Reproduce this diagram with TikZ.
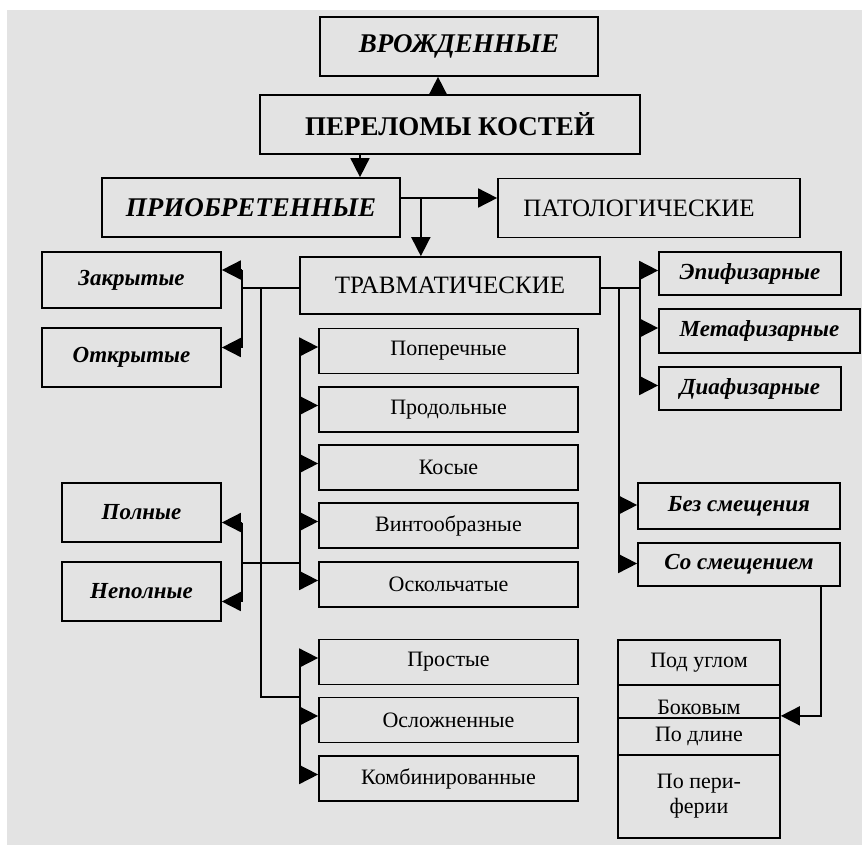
\documentclass[tikz,border=0pt]{standalone}
\usepackage{fontspec}
\setmainfont{Liberation Serif}
\usetikzlibrary{calc}
\usetikzlibrary{arrows.meta}

\begin{document}
\begin{tikzpicture}[x=1pt,y=-1pt,
  ramka/.style={draw,line width=1.7pt,inner sep=0pt,align=center},
  linija/.style={line width=1.7pt},
  strelka/.style={line width=1.7pt,-{Triangle[length=19pt,width=19pt]}},
  glav/.style={font=\fontsize{27}{30}\selectfont\bfseries\itshape},
  zagl/.style={font=\fontsize{25}{28}\selectfont},
  kurs/.style={font=\fontsize{23}{26}\selectfont\bfseries\itshape},
  prostoj/.style={font=\fontsize{22}{25}\selectfont}]

\useasboundingbox (0,0) rectangle (862,852);
\fill[white] (0,0) rectangle (862,852);											% поля скана
\fill[black!11] (7,10) rectangle (862,845);										% серая страница

\node[ramka,glav,minimum width=278pt,minimum height=59pt] (vrozh) at (459,46.5) {ВРОЖДЕННЫЕ};	% верх
\node[ramka,font=\fontsize{27}{30}\selectfont\bfseries,minimum width=380pt,minimum height=59pt] (perelom) at (450,124.5) {ПЕРЕЛОМЫ КОСТЕЙ};
\node[ramka,glav,minimum width=298pt,minimum height=59pt] (priobr) at (251,207.5) {ПРИОБРЕТЕННЫЕ};
\node[ramka,zagl,minimum width=302pt,minimum height=59pt] (patol) at (649,208) {\hspace*{-20pt}ПАТОЛОГИЧЕСКИЕ};
\node[ramka,zagl,minimum width=300pt,minimum height=57pt] (travm) at (450,285.5) {ТРАВМАТИЧЕСКИЕ};

\node[ramka,kurs,minimum width=179pt,minimum height=56pt] (zakr) at (131.5,280) {Закрытые};		% слева
\node[ramka,kurs,minimum width=179pt,minimum height=59pt] (otkr) at (131.5,357.5) {Открытые};
\node[ramka,kurs,minimum width=159pt,minimum height=59pt] (poln) at (141.5,512.5) {Полные};
\node[ramka,kurs,minimum width=159pt,minimum height=59pt] (nepoln) at (141.5,591.5) {Неполные};

\node[ramka,kurs,minimum width=182pt,minimum height=43pt] (epif) at (750,273.5) {Эпифизарные};	% справа
\node[ramka,kurs,minimum width=201pt,minimum height=44pt] (metaf) at (759.5,331) {Метафизарные};
\node[ramka,kurs,minimum width=182pt,minimum height=43pt] (diaf) at (750,388.5) {Диафизарные};
\node[ramka,kurs,minimum width=202pt,minimum height=46pt] (bez) at (739,506) {Без смещения};
\node[ramka,kurs,minimum width=202pt,minimum height=43pt] (so) at (739,564.5) {Со смещением};

\foreach \imja/\y/\tekst in {pop/351/Поперечные,prod/409.5/Продольные,kos/467.5/Косые,
  vint/525.5/Винтообразные,osk/584.5/Оскольчатые,prost/662/Простые,
  oslozh/720/Осложненные,komb/778.5/Комбинированные}
  \node[ramka,prostoj,minimum width=259pt,minimum height=45pt] (\imja) at (448.5,\y) {\tekst};	% виды

\node[ramka,prostoj,minimum width=162pt,minimum height=45pt] (ugl) at (699,662.5) {Под углом};	% столбик
\node[ramka,prostoj,minimum width=162pt,minimum height=33pt] (bok) at (699,701.5) {\raisebox{-13pt}[0pt][0pt]{Боковым}};
\node[ramka,prostoj,minimum width=162pt,minimum height=37pt] (dlin) at (699,736.5) {По длине};
\node[ramka,prostoj,minimum width=162pt,minimum height=83pt] (perif) at (699,796.5) {По пери-\\ферии};

\draw[strelka] ([xshift=-12pt]perelom.north) -- ([xshift=-12pt]perelom.north |- vrozh.south);	% вверх
\draw[strelka] ([xshift=-90pt]perelom.south) -- ([xshift=-90pt]perelom.south |- priobr.north);	% вниз
\draw[strelka] ([yshift=9.5pt]priobr.east) -- ([yshift=9.5pt]priobr.east -| patol.west);
\coordinate (razv) at ([xshift=20pt,yshift=9.5pt]priobr.east);
\draw[strelka] (razv) -- (razv |- travm.north);

\coordinate (lk) at (242,288);													% левые скобки
\coordinate (stv) at (261,697);
\coordinate (vk) at (300,563);
\draw[linija] ([yshift=-2.5pt]travm.west) -- (lk);
\draw[linija] ([yshift=10pt]zakr.east -| lk) -- ([yshift=10pt]otkr.east -| lk);
\draw[strelka] ([yshift=10pt]zakr.east -| lk) -- ([yshift=10pt]zakr.east);
\draw[strelka] ([yshift=10pt]otkr.east -| lk) -- ([yshift=10pt]otkr.east);
\draw[linija] (stv |- lk) -- (stv) -- (stv -| vk);
\draw[linija] (vk -| lk) -- (vk);
\draw[linija] ([yshift=-10pt]poln.east -| lk) -- ([yshift=-10pt]nepoln.east -| lk);
\draw[strelka] ([yshift=-10pt]poln.east -| lk) -- ([yshift=-10pt]poln.east);
\draw[strelka] ([yshift=-10pt]nepoln.east -| lk) -- ([yshift=-10pt]nepoln.east);

\draw[linija] ([yshift=4pt]pop.west -| vk) -- ([yshift=4pt]osk.west -| vk);			% скобки видов
\draw[linija] ([yshift=4pt]prost.west -| vk) -- ([yshift=4pt]komb.west -| vk);
\foreach \imja in {pop,prod,kos,vint,osk,prost,oslozh,komb}
  \draw[strelka] ([yshift=4pt]\imja.west -| vk) -- ([yshift=4pt]\imja.west);

\coordinate (pk) at (640,288);													% правые скобки
\coordinate (sm) at (619,288);
\draw[linija] ([yshift=-2.5pt]travm.east) -- (pk);
\draw[linija] ([yshift=3pt]epif.west -| pk) -- ([yshift=3pt]diaf.west -| pk);
\foreach \imja in {epif,metaf,diaf}
  \draw[strelka] ([yshift=3pt]\imja.west -| pk) -- ([yshift=3pt]\imja.west);
\draw[linija] (sm) -- ([yshift=1pt]so.west -| sm);
\foreach \imja in {bez,so}
  \draw[strelka] ([yshift=1pt]\imja.west -| sm) -- ([yshift=1pt]\imja.west);

\coordinate (knik) at ([xshift=-20pt]so.south east);
\draw[strelka] (knik) |- ([yshift=3pt]bok.south east);							% к столбику

\end{tikzpicture}
\end{document}
